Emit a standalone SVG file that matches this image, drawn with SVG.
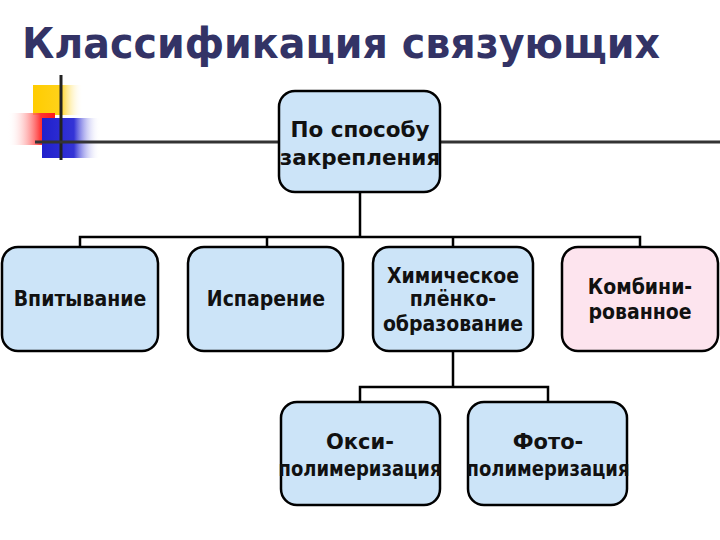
<svg xmlns="http://www.w3.org/2000/svg" width="720" height="540" viewBox="0 0 720 540">
<defs>
<linearGradient id="gy" x1="0" y1="0" x2="1" y2="0"><stop offset="0" stop-color="#ffcc00"/><stop offset="0.55" stop-color="#ffd21a"/><stop offset="1" stop-color="#ffffff" stop-opacity="0"/></linearGradient>
<linearGradient id="gr" x1="1" y1="0" x2="0" y2="0"><stop offset="0" stop-color="#ff1a1a"/><stop offset="0.3" stop-color="#ff3333"/><stop offset="1" stop-color="#ffffff" stop-opacity="0"/></linearGradient>
<linearGradient id="gb" x1="0" y1="0" x2="1" y2="0"><stop offset="0" stop-color="#2020cc"/><stop offset="0.55" stop-color="#3333d6"/><stop offset="1" stop-color="#ffffff" stop-opacity="0"/></linearGradient>
<clipPath id="k0"><rect x="279" y="92" width="161" height="99"/></clipPath>
<style>
.t{font-family:"DejaVu Sans","Liberation Sans",sans-serif;font-weight:bold;fill:#111;text-anchor:middle}
.s{font-family:"DejaVu Sans Condensed","DejaVu Sans","Liberation Sans",sans-serif;font-stretch:condensed;font-weight:bold;fill:#111;text-anchor:middle;font-size:21px}
.box{stroke:#000;stroke-width:2.5}
.blue{fill:#cce4f8}
.pink{fill:#fde4ee}
.c{fill:none;stroke:#000;stroke-width:2.5}
</style>
</defs>
<rect width="720" height="540" fill="#fff"/>
<text x="22" y="58" font-family="DejaVu Sans, Liberation Sans, sans-serif" font-weight="bold" font-size="43" fill="#333366" textLength="638" lengthAdjust="spacingAndGlyphs">Классификация связующих</text>
<g id="decor">
<rect x="33" y="85" width="50" height="30" fill="url(#gy)"/>
<rect x="8" y="113" width="47" height="32" fill="url(#gr)"/>
<rect x="42" y="118" width="58" height="40" fill="url(#gb)"/>
<line x1="61" y1="75" x2="61" y2="160" stroke="#222" stroke-width="3"/>
<line x1="35" y1="142" x2="720" y2="142" stroke="#333" stroke-width="3"/>
</g>
<g id="connectors">
<path class="c" d="M360 192V237M80 248V237H640V248M267 237V248M453 237V248"/>
<path class="c" d="M453 352V387M360 402V387H548V402"/>
</g>
<g id="n0"><rect class="box blue" x="279" y="91" width="161" height="101" rx="16"/>
<g clip-path="url(#k0)">
<text class="t" font-size="21.5" x="360" y="137">По способу</text>
<text class="t" font-size="21.5" x="360" y="165">закрепления</text></g></g>
<g id="n1"><rect class="box blue" x="2" y="247" width="156" height="104" rx="16"/>
<text class="s" x="80" y="306">Впитывание</text></g>
<g id="n2"><rect class="box blue" x="188" y="247" width="155" height="104" rx="16"/>
<text class="s" x="266" y="306">Испарение</text></g>
<g id="n3"><rect class="box blue" x="373" y="247" width="160" height="104" rx="16"/>
<text class="s" x="453" y="283">Химическое</text>
<text class="s" x="453" y="306">плёнко-</text>
<text class="s" x="453" y="331">образование</text></g>
<g id="n4"><rect class="box pink" x="562" y="247" width="156" height="104" rx="16"/>
<text class="s" x="640" y="294">Комбини-</text>
<text class="s" x="640" y="319">рованное</text></g>
<g id="n5"><rect class="box blue" x="281" y="402" width="159" height="103" rx="16"/>
<text class="t" font-size="21" x="360" y="449">Окси-</text>
<text class="t" font-size="21" x="360" y="476" textLength="163" lengthAdjust="spacingAndGlyphs">полимеризация</text></g>
<g id="n6"><rect class="box blue" x="468" y="402" width="159" height="103" rx="16"/>
<text class="t" font-size="21" x="548" y="449">Фото-</text>
<text class="t" font-size="21" x="548" y="476" textLength="163" lengthAdjust="spacingAndGlyphs">полимеризация</text></g>
</svg>
